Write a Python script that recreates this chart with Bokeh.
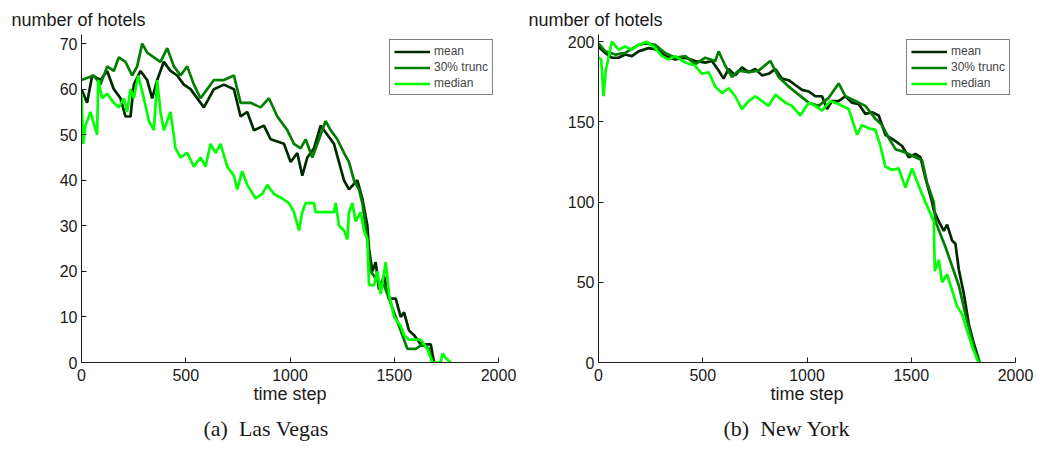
from bokeh.plotting import figure
from bokeh.layouts import row
from bokeh.models import FixedTicker, Legend, LegendItem, Title, Range1d
from bokeh.embed import file_html
from bokeh.resources import INLINE

# ---------------- Las Vegas ----------------
lv_mean_t = [0, 27, 51, 91, 123, 155, 187, 211, 235, 251, 283, 315, 339, 363, 395, 427, 459, 491, 523,
             587, 635, 683, 731, 763, 795, 827, 875, 907, 971, 1003, 1035, 1059, 1083, 1115, 1147, 1179,
             1211, 1235, 1259, 1283, 1323, 1347, 1371, 1379, 1395, 1411, 1427, 1451, 1475, 1507, 1531,
             1547, 1571, 1595, 1627, 1675, 1691]
lv_mean_v = [60, 57, 63, 62, 64, 60, 58, 54, 54, 61, 64, 62, 58, 62, 66, 64, 63, 61, 60,
             56, 60, 61, 60, 54, 55, 51, 52, 49, 48, 44, 46, 41, 45, 47, 52, 50,
             48, 44, 40, 38, 40, 36, 30, 25, 20, 22, 16, 19, 14, 14, 10,
             11, 7, 6, 4, 4, 0]

lv_trunc_t = [0, 59, 91, 123, 155, 179, 211, 243, 267, 291, 315, 347, 379, 411, 443, 475, 507, 539,
              571, 603, 635, 683, 731, 763, 811, 859, 899, 939, 987, 1019, 1051, 1075, 1107, 1147,
              1171, 1195, 1227, 1259, 1283, 1307, 1331, 1347, 1371, 1387, 1419, 1451, 1483, 1515,
              1539, 1563, 1603, 1635, 1667, 1683]
lv_trunc_v = [62, 63, 61, 65, 64, 67, 66, 63, 65, 70, 68, 67, 66, 69, 65, 63, 65, 61,
              58, 60, 62, 62, 63, 57, 57, 56, 58, 54, 51, 48, 47, 49, 45, 50,
              53, 51, 49, 46, 44, 40, 38, 35, 27, 20, 18, 17, 13, 9,
              6, 3, 3, 4, 3, 0]

lv_median_t = [0, 8, 19, 43, 62, 75, 80, 99, 123, 155, 179, 203, 219, 235, 251, 272, 299, 323, 347,
               363, 379, 395, 427, 451, 475, 507, 539, 571, 595, 619, 643, 667, 699, 731, 747, 771,
               795, 835, 867, 891, 923, 963, 995, 1019, 1043, 1059, 1075, 1115, 1123, 1211, 1219,
               1235, 1259, 1275, 1283, 1299, 1315, 1339, 1355, 1371, 1379, 1403, 1419, 1435, 1459,
               1475, 1499, 1531, 1547, 1571, 1627, 1659, 1683, 1723, 1731, 1747, 1771]
lv_median_v = [59, 48, 52, 55, 52, 50, 62, 58, 59, 57, 56, 58, 55, 60, 58, 63, 58, 53, 51,
               62, 55, 51, 55, 47, 45, 46, 43, 45, 43, 48, 46, 48, 43, 41, 38, 42,
               39, 36, 37, 39, 37, 36, 35, 33, 29, 33, 35, 35, 33, 33, 35,
               30, 29, 27, 33, 35, 31, 33, 29, 27, 17, 17, 20, 15, 22,
               15, 10, 8, 6, 5, 5, 3, 0, 0, 2, 1, 0]

# ---------------- New York ----------------
ny_mean_t = [0, 32, 64, 96, 128, 160, 192, 240, 288, 320, 368, 416, 464, 512, 544, 576, 600, 624,
             656, 688, 720, 752, 784, 816, 848, 880, 912, 944, 976, 1008, 1040, 1072, 1096, 1120,
             1152, 1184, 1216, 1248, 1280, 1312, 1344, 1376, 1424, 1456, 1488, 1520, 1544, 1568,
             1600, 1608, 1632, 1656, 1672, 1696, 1712, 1728, 1752, 1776, 1800, 1821, 1827]
ny_mean_v = [197, 193, 190, 190, 192, 191, 194, 196, 195, 191, 189, 190, 188, 187, 188, 182, 177, 183,
             179, 184, 181, 183, 179, 180, 183, 177, 176, 173, 170, 169, 166, 166, 158, 163,
             163, 166, 162, 161, 155, 156, 154, 142, 138, 135, 128, 130, 128, 115,
             100, 95, 88, 82, 86, 76, 74, 58, 43, 24, 12, 3, 0]

ny_trunc_t = [0, 32, 80, 128, 192, 224, 272, 320, 368, 416, 464, 512, 560, 576, 608, 640, 672, 720,
              768, 824, 864, 912, 960, 1008, 1056, 1104, 1152, 1184, 1232, 1280, 1328, 1360, 1392,
              1424, 1472, 1520, 1552, 1576, 1608, 1616, 1640, 1664, 1696, 1728, 1760, 1784, 1808, 1827]
ny_trunc_v = [199, 194, 192, 193, 198, 199, 198, 193, 190, 191, 186, 190, 188, 194, 185, 178, 182, 181,
              182, 188, 178, 172, 167, 162, 160, 165, 174, 166, 163, 160, 152, 148, 140,
              133, 131, 128, 126, 112, 100, 88, 80, 72, 60, 48, 30, 18, 6, 1]

ny_median_t = [0, 13, 24, 35, 48, 64, 96, 128, 160, 192, 232, 272, 304, 336, 368, 416, 464, 496, 528,
               560, 592, 624, 656, 688, 720, 752, 784, 816, 848, 896, 928, 968, 1008, 1040, 1072,
               1112, 1152, 1200, 1240, 1264, 1296, 1328, 1352, 1376, 1408, 1440, 1472, 1504, 1536,
               1568, 1608, 1613, 1632, 1648, 1672, 1696, 1720, 1744, 1768, 1792, 1816, 1824]
ny_median_v = [190, 189, 166, 182, 190, 200, 195, 197, 195, 198, 200, 196, 191, 189, 191, 187, 185, 180, 181,
               172, 168, 171, 166, 158, 163, 166, 163, 160, 167, 162, 160, 154, 162, 160, 157,
               163, 161, 158, 142, 148, 146, 145, 135, 122, 120, 121, 109, 121, 110,
               100, 88, 57, 64, 50, 55, 45, 35, 30, 20, 10, 2, 0]

x_ticks = [0, 500, 1000, 1500, 2000]
lv_y_ticks = [0, 10, 20, 30, 40, 50, 60, 70]
ny_y_ticks = [0, 50, 100, 150, 200]
series_names = ["mean", "30% trunc", "median"]
colors = ["#002a00", "#008000", "#00ff00"]

FONT = "Liberation Sans"


def make_plot(width, left, right, ymax, yticks, data, ylab_off, caption, cap_off):
    p = figure(width=width, height=452, output_backend="svg", toolbar_location=None,
               x_range=Range1d(0, 2000), y_range=Range1d(0, ymax),
               min_border_left=left, min_border_right=right, min_border_top=34,
               min_border_bottom=90)
    p.outline_line_color = None
    p.grid.visible = False
    p.background_fill_color = "white"
    p.border_fill_color = "white"
    items = []
    for (t, v), name, c in zip(data, series_names, colors):
        r = p.line(t, v, line_color=c, line_width=2.7)
        items.append(LegendItem(label=name, renderers=[r]))
    for ax in (p.xaxis[0], p.yaxis[0]):
        ax.major_tick_in = 5
        ax.major_tick_out = 0
        ax.minor_tick_line_color = None
        ax.axis_line_color = "#1a1a1a"
        ax.major_tick_line_color = "#1a1a1a"
        ax.major_label_text_font = FONT
        ax.major_label_text_font_size = "16px"
        ax.major_label_text_color = "#1a1a1a"
    p.xaxis.ticker = FixedTicker(ticks=x_ticks)
    p.yaxis.ticker = FixedTicker(ticks=yticks)
    p.xaxis.major_label_standoff = 6
    p.yaxis.major_label_standoff = 4
    p.xaxis.axis_label = "time step"
    p.xaxis.axis_label_text_font = FONT
    p.xaxis.axis_label_text_font_size = "18px"
    p.xaxis.axis_label_text_font_style = "normal"
    p.xaxis.axis_label_text_color = "#1a1a1a"
    p.xaxis.axis_label_standoff = 0

    leg = Legend(items=items, location="top_right", label_text_font=FONT,
                 label_text_font_size="12px", glyph_width=36, glyph_height=13,
                 label_height=13, spacing=2, padding=4, margin=5, label_standoff=4,
                 border_line_color="black", border_line_width=1, background_fill_alpha=1)
    p.add_layout(leg)

    p.title.text = "number of hotels"
    p.title.align = "left"
    p.title.offset = ylab_off
    p.title.text_font = FONT
    p.title.text_font_size = "18px"
    p.title.text_font_style = "normal"
    p.title.text_color = "#1a1a1a"
    p.title.standoff = 9

    p.add_layout(Title(text=caption, align="left", offset=cap_off,
                       text_font="Liberation Serif", text_font_size="22px",
                       text_font_style="normal", text_color="#1a1a1a", standoff=15), "below")
    return p


p1 = make_plot(518, 81, 20, 72, lv_y_ticks,
               [(lv_mean_t, lv_mean_v), (lv_trunc_t, lv_trunc_v), (lv_median_t, lv_median_v)],
               -70, "(a)\u00a0\u00a0Las Vegas", 122)
p2 = make_plot(519, 80, 22, 204.5, ny_y_ticks,
               [(ny_mean_t, ny_mean_v), (ny_trunc_t, ny_trunc_v), (ny_median_t, ny_median_v)],
               -70, "(b)\u00a0\u00a0New York", 125)

layout = row(p1, p2)
open("out.html", "w").write(file_html(layout, INLINE))
